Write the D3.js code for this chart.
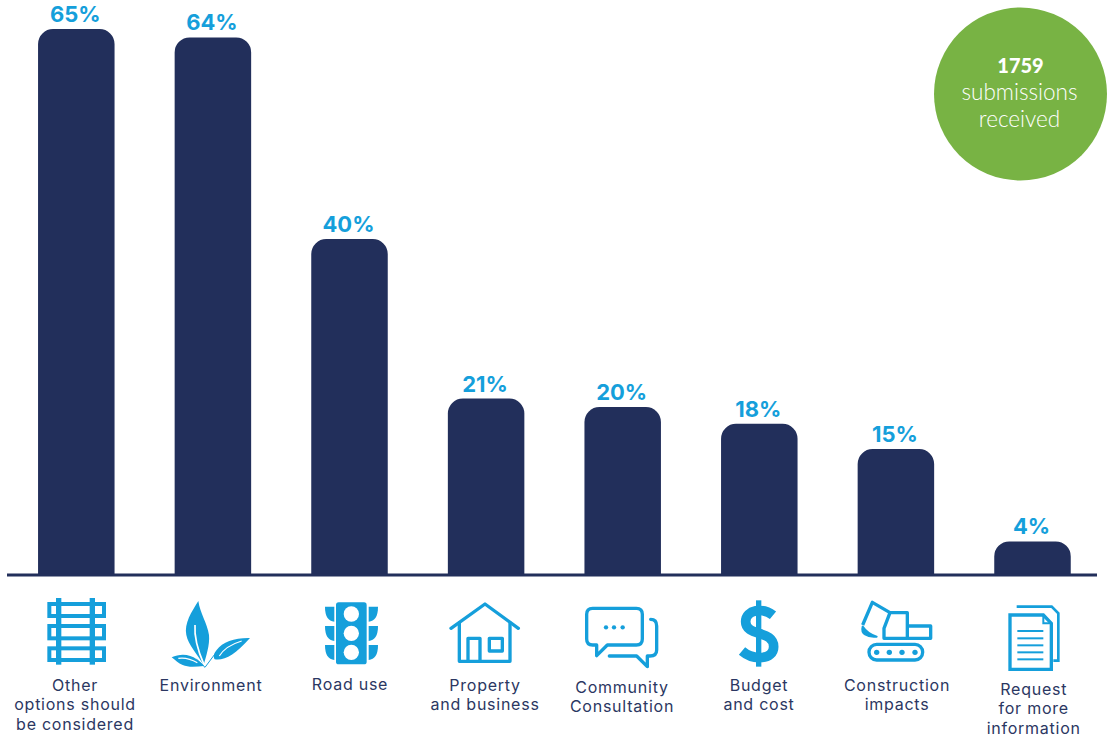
<html>
<head>
	<title>Submissions chart</title>
	<meta charset="utf-8">
	<script src="https://d3js.org/d3.v7.min.js"></script>
	<style>
		html, body {margin:0; padding:0; background:#fff; overflow:hidden}
		svg {display:block}
	</style>
</head>
<body>
	<script type="text/javascript">
		// data
		var categories = ["rail", "environment", "road", "property", "community", "budget", "construction", "request"]
		var values = [65, 64, 40, 21, 20, 18, 15, 4]
		var labelLines = [
			["Other", "options should", "be considered"],
			["Environment"],
			["Road use"],
			["Property", "and business"],
			["Community", "Consultation"],
			["Budget", "and cost"],
			["Construction", "impacts"],
			["Request", "for more", "information"]
		]
		var totalNumber = "1759"
		var totalLines = ["submissions", "received"]

		var width = 1108
		var height = 737
		var navy = "#222f5b"
		var blue = "#159fdb"
		var green = "#78b344"
		var baseline = 575

		var svg = d3.select("body").append("svg")
			.attr("width", width)
			.attr("height", height)

		var scalex = d3.scaleBand().domain(categories).range([8, 1100.8]).paddingInner(0.44).paddingOuter(0.22)
		var scaley = d3.scaleLinear().domain([0, 65]).range([baseline, 29])

		// bar with rounded top corners only
		function barPath(cat, v) {
			var p = d3.path()
			var x0 = scalex(cat), x1 = x0 + scalex.bandwidth(), y = scaley(v), r = 15
			p.moveTo(x0, baseline)
			p.lineTo(x0, y + r)
			p.arcTo(x0, y, x0 + r, y, r)
			p.lineTo(x1 - r, y)
			p.arcTo(x1, y, x1, y + r, r)
			p.lineTo(x1, baseline)
			p.closePath()
			return p.toString()
		}

		svg.selectAll("path.bar")
			.data(categories)
			.enter()
			.append("path")
			.attr("class", "bar")
			.attr("fill", navy)
			.attr("d", (d, i) => barPath(d, values[i]))

		svg.append("line")
			.attr("x1", 7).attr("x2", 1097)
			.attr("y1", baseline).attr("y2", baseline)
			.attr("stroke", navy)
			.attr("stroke-width", 3)

		// percent labels above the bars
		svg.selectAll("text.value")
			.data(categories)
			.enter()
			.append("text")
			.attr("class", "value")
			.attr("x", d => scalex(d) + scalex.bandwidth() / 2 - 1)
			.attr("y", (d, i) => scaley(values[i]) - 7)
			.attr("text-anchor", "middle")
			.attr("font-family", "Inter")
			.attr("font-weight", 700)
			.attr("font-size", 22)
			.attr("fill", blue)
			.text((d, i) => values[i] + "%")

		// category labels, centre and first baseline differ a little per column
		var labelLayout = {
			rail: {dx: -1.25, y: 690.7}, environment: {dx: -1.9, y: 690.7}, road: {dx: 0.5, y: 689.7},
			property: {dx: -1, y: 690.7}, community: {dx: -0.7, y: 692.5}, budget: {dx: -0.3, y: 690.7},
			construction: {dx: 1.1, y: 690.7}, request: {dx: 1.2, y: 694.7}
		}
		var labels = svg.selectAll("text.label")
			.data(categories)
			.enter()
			.append("text")
			.attr("class", "label")
			.attr("text-anchor", "middle")
			.attr("font-family", "Inter")
			.attr("font-size", 16)
			.attr("letter-spacing", 0.75)
			.attr("fill", "#2b3762")
		labels.each(function(d, i) {
			var c = scalex(d) + scalex.bandwidth() / 2 + labelLayout[d].dx
			d3.select(this).selectAll("tspan")
				.data(labelLines[i])
				.enter()
				.append("tspan")
				.attr("x", c)
				.attr("y", (l, j) => labelLayout[d].y + j * 19.6)
				.text(l => l)
		})

		// icons are drawn in 3x units, so each group is scaled by a third
		var icons = {
			rail: function(g) {
				g.attr("fill", "none").attr("stroke", blue).attr("stroke-width", 12)
				;[[102, 36], [168, 37], [235, 35]].forEach(r => {
					g.append("rect").attr("x", 148).attr("y", r[0]).attr("width", 164).attr("height", r[1])
				})
				;[176, 277].forEach(x => {
					g.append("line").attr("x1", x).attr("x2", x).attr("y1", 84).attr("y2", 284).attr("stroke-width", 16)
				})
			},
			environment: function(g) {
				g.attr("fill", blue)
				g.append("path").attr("d", "M595 93C575 125 552 160 559 195C565 225 590 250 611 285C618 260 630 225 627 195C622 160 600 130 595 93Z")
				g.append("path").attr("d", "M750 204C705 203 668 215 650 240C640 252 640 262 644 268C675 272 705 255 750 204Z")
				g.append("path").attr("d", "M515 262C540 250 570 252 590 268C600 275 608 282 612 288C590 290 565 293 548 285C535 280 525 270 515 262Z")
				g.append("path").attr("d", "M615 292L650 245M615 292L590 268").attr("stroke", blue).attr("stroke-width", 3).attr("fill", "none")
				g.append("path").attr("d", "M585 165C582 205 595 245 612 284").attr("stroke", "#fff").attr("stroke-width", 5).attr("fill", "none")
				g.append("path").attr("d", "M658 258C672 235 695 222 725 213").attr("stroke", "#fff").attr("stroke-width", 3.5).attr("fill", "none")
				g.append("path").attr("d", "M535 265C555 262 575 268 592 278").attr("stroke", "#fff").attr("stroke-width", 3.5).attr("fill", "none")
			},
			road: function(g) {
				g.attr("fill", blue)
				g.append("rect").attr("x", 1008).attr("y", 97).attr("width", 92).attr("height", 186).attr("rx", 8)
				;[110, 168, 225].forEach(y => {
					g.append("path").attr("d", `M975 ${y}H1003V${y + 45}C985 ${y + 42} 975 ${y + 30} 975 ${y}Z`)
					g.append("path").attr("d", `M1134 ${y}H1106V${y + 45}C1124 ${y + 42} 1134 ${y + 30} 1134 ${y}Z`)
				})
				;[132, 190, 247].forEach(y => {
					g.append("circle").attr("cx", 1054).attr("cy", y).attr("r", 23).attr("fill", "#fff")
				})
			},
			property: function(g) {
				g.attr("fill", "none").attr("stroke", blue).attr("stroke-width", 10).attr("stroke-linecap", "round").attr("stroke-linejoin", "round")
				g.append("path").attr("d", "M153 175L255 102L355 175")
				g.append("path").attr("d", "M178 158V274H330V158")
				g.append("path").attr("d", "M204 274V205H240V274")
				g.append("rect").attr("x", 268).attr("y", 205).attr("width", 39).attr("height", 38)
			},
			community: function(g) {
				g.attr("fill", "none").attr("stroke", blue).attr("stroke-width", 10).attr("stroke-linecap", "round").attr("stroke-linejoin", "round")
				g.append("path").attr("d", "M578 115H709Q727 115 727 133V207Q727 225 709 225H622L590 257V225H578Q560 225 560 207V133Q560 115 578 115Z")
				g.append("path").attr("d", "M752 148Q770 148 770 168V240Q770 258 750 258H742V290L710 258H628")
				;[618, 642, 668].forEach(x => {
					g.append("circle").attr("cx", x).attr("cy", 172).attr("r", 6.5).attr("fill", blue).attr("stroke", "none")
				})
			},
			budget: function(g) {
				g.attr("fill", "none").attr("stroke", blue)
				g.append("path").attr("stroke-width", 29).attr("d", "M219 136C190 112 137 118 137 155C137 200 221 180 221 230C221 270 160 272 126 243")
				g.append("line").attr("x1", 176).attr("x2", 176).attr("y1", 91).attr("y2", 290).attr("stroke-width", 16)
			},
			construction: function(g) {
				g.attr("fill", "none").attr("stroke", blue).attr("stroke-width", 10).attr("stroke-linejoin", "round")
				g.append("path").attr("d", "M570 128H622V205H552V175Z")
				g.append("path").attr("d", "M622 168H692V205H622")
				g.append("path").attr("d", "M570 128L517 97L488 165")
				g.append("path").attr("fill", blue).attr("stroke-width", 6).attr("d", "M488 170C482 190 500 203 530 200C512 195 498 185 488 170Z")
				g.append("rect").attr("x", 507).attr("y", 223).attr("width", 161).attr("height", 47).attr("rx", 23)
				;[530, 568, 606, 645].forEach(x => {
					g.append("circle").attr("cx", x).attr("cy", 247).attr("r", 8).attr("fill", blue).attr("stroke", "none")
				})
			},
			request: function(g) {
				g.attr("fill", "none").attr("stroke", blue).attr("stroke-width", 10)
				g.append("path").attr("stroke-width", 8).attr("d", "M950 110H1055L1075 130V272H1060")
				g.append("path").attr("d", "M930 135H1030L1054 160V298H930Z")
				g.append("path").attr("stroke-width", 6).attr("d", "M1030 135V160H1054")
				;[183, 205, 226, 247, 268].forEach(y => {
					g.append("line").attr("x1", 952).attr("x2", 1030).attr("y1", y).attr("y2", y).attr("stroke-width", 6)
				})
			}
		}
		// left edge of the zoomed crop each icon was traced from
		var iconOrigin = {rail: 0, environment: 0, road: 0, property: 400, community: 400, budget: 700, construction: 700, request: 700}

		categories.forEach(c => {
			var g = svg.append("g")
				.attr("class", "icon")
				.attr("transform", `translate(${iconOrigin[c]},570) scale(${1 / 3})`)
			icons[c](g)
		})

		// green badge
		var badge = svg.append("g").attr("transform", "translate(1020.5,94)")
		badge.append("circle").attr("r", 86.5).attr("fill", green)
		badge.append("text")
			.attr("y", -21)
			.attr("text-anchor", "middle")
			.attr("font-family", "Lato")
			.attr("font-weight", 900)
			.attr("font-size", 20)
			.attr("fill", "#fff")
			.text(totalNumber)
		badge.selectAll("text.total")
			.data(totalLines)
			.enter()
			.append("text")
			.attr("class", "total")
			.attr("x", -1)
			.attr("y", (d, i) => 6 + i * 27)
			.attr("text-anchor", "middle")
			.attr("font-family", "Lato")
			.attr("font-weight", 300)
			.attr("font-size", 22.5)
			.attr("fill", "#fff")
			.text(d => d)
	</script>
</body>
</html>
